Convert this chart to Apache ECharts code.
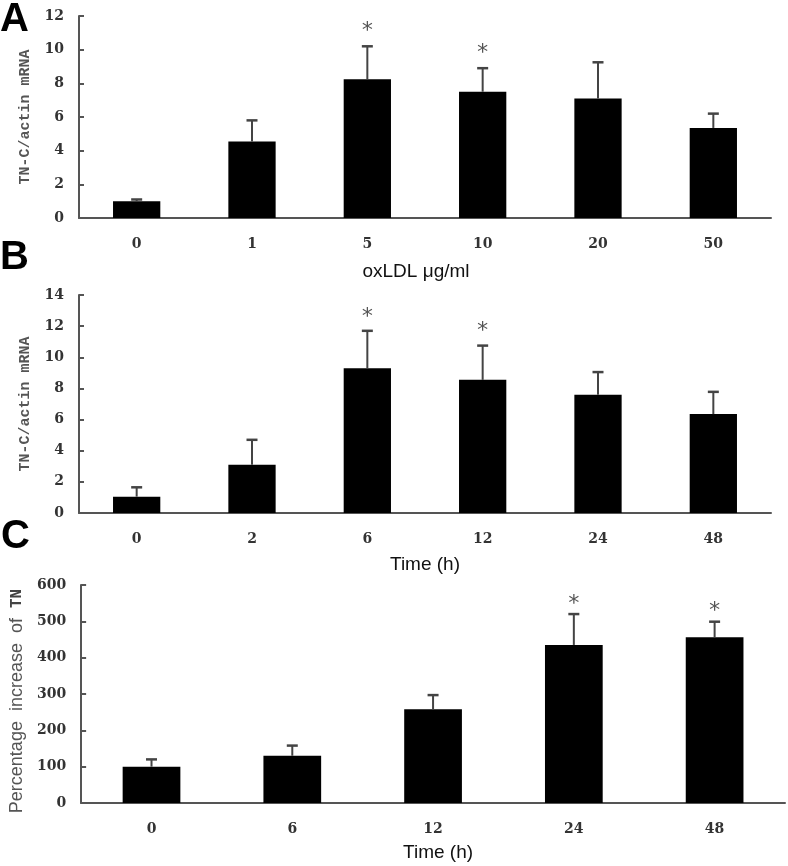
<!DOCTYPE html>
<html>
<head>
<meta charset="utf-8">
<script src="https://cdn.jsdelivr.net/npm/echarts@6/dist/echarts.min.js"></script>
<style>
  html, body { margin: 0; padding: 0; background: #fff; }
  #chart { width: 788px; height: 866px; }
</style>
</head>
<body>
<div id="chart"></div>
<script>
// Panel A: oxLDL dose
const catA = ['0', '1', '5', '10', '20', '50'];
const meanA = [1.0, 4.55, 8.25, 7.5, 7.1, 5.35];
const sdA = [0.1, 1.25, 1.95, 1.4, 2.15, 0.85];
const sigA = [0, 0, 1, 1, 0, 0];

// Panel B: time course
const catB = ['0', '2', '6', '12', '24', '48'];
const meanB = [1.05, 3.1, 9.3, 8.55, 7.6, 6.35];
const sdB = [0.6, 1.6, 2.4, 2.2, 1.45, 1.43];
const sigB = [0, 0, 1, 1, 0, 0];

// Panel C: percentage increase of TN
const catC = ['0', '6', '12', '24', '48'];
const meanC = [100, 130, 258, 435, 456];
const sdC = [20, 28, 39, 85, 43];
const sigC = [0, 0, 0, 1, 1];

const chart = echarts.init(document.getElementById('chart'), null, { renderer: 'canvas' });

const tickFont = { fontFamily: 'DejaVu Serif', fontWeight: 'bold', fontSize: 14, color: '#333' };
const axisLine = { lineStyle: { color: '#555', width: 2 } };

function errData(mean, sd, sig) {
  return mean.map((m, i) => [i, m, m + sd[i], sig[i]]);
}

function errRender(starGap) {
  return function (params, api) {
    const base = api.coord([api.value(0), api.value(1)]);
    const top = api.coord([api.value(0), api.value(2)]);
    const children = [
      { type: 'line', shape: { x1: base[0], y1: base[1], x2: top[0], y2: top[1] },
        style: { stroke: '#444', lineWidth: 2 } },
      { type: 'line', shape: { x1: top[0] - 5.5, y1: top[1], x2: top[0] + 5.5, y2: top[1] },
        style: { stroke: '#444', lineWidth: 2.5 } }
    ];
    if (api.value(3)) {
      children.push({ type: 'text', x: top[0], y: top[1] - starGap,
        style: { text: '*', fontSize: 22, fontFamily: 'DejaVu Sans Mono', fill: '#555',
                 align: 'center', verticalAlign: 'middle' } });
    }
    return { type: 'group', children: children };
  };
}

function xAxisCfg(idx, cats, name, gap, pad) {
  return {
    type: 'category', gridIndex: idx, data: cats,
    axisLine: axisLine,
    axisTick: { inside: true, length: 3, lineStyle: { color: '#555', width: 2 } },
    axisLabel: Object.assign({ margin: 19 }, tickFont),
    name: name, nameLocation: 'middle', nameGap: gap,
    nameTextStyle: { fontFamily: 'Liberation Sans', fontSize: 19, color: '#111', padding: pad }
  };
}

function yAxisCfg(idx, max, interval, name, nameGap, nameStyle) {
  return {
    type: 'value', gridIndex: idx, min: 0, max: max, interval: interval,
    axisLine: Object.assign({ show: true }, axisLine),
    axisTick: { show: true, inside: true, length: 5, lineStyle: { color: '#555', width: 2 } },
    axisLabel: Object.assign({ margin: 15 }, tickFont),
    splitLine: { show: false },
    name: name, nameLocation: 'middle', nameGap: nameGap,
    nameTextStyle: nameStyle
  };
}

const monoName = { fontFamily: 'Liberation Mono', fontWeight: 'bold', fontSize: 15, color: '#555' };

const option = {
  backgroundColor: '#fff',
  animation: false,
  grid: [
    { left: 79, right: 17, top: 16, height: 202 },
    { left: 79, right: 17, top: 295, height: 218 },
    { left: 79, right: 3, top: 585, height: 218 }
  ],
  xAxis: [
    xAxisCfg(0, catA, 'oxLDL \u03bcg/ml', 44, [0, 18, 0, 0]),
    xAxisCfg(1, catB, 'Time (h)', 42, [0, 0, 0, 0]),
    xAxisCfg(2, catC, 'Time (h)', 40, [0, 0, 0, 10])
  ],
  yAxis: [
    yAxisCfg(0, 12, 2, 'TN-C/actin mRNA', 46, monoName),
    yAxisCfg(1, 14, 2, 'TN-C/actin mRNA', 46, monoName),
    yAxisCfg(2, 600, 100, '{a|Percentage  increase  of  }{b|TN}', 54, {
      padding: [0, 14, 0, 0],
      rich: {
        a: { fontFamily: 'Liberation Sans', fontSize: 18, color: '#555' },
        b: { fontFamily: 'Liberation Mono', fontWeight: 'bold', fontSize: 16, color: '#444' }
      }
    })
  ],
  graphic: [
    { type: 'text', left: 0, top: 0, style: { text: 'A', fontFamily: 'Liberation Sans', fontWeight: 'bold', fontSize: 40, fill: '#000' } },
    { type: 'text', left: 0, top: 238, style: { text: 'B', fontFamily: 'Liberation Sans', fontWeight: 'bold', fontSize: 40, fill: '#000' } },
    { type: 'text', left: 1, top: 517, style: { text: 'C', fontFamily: 'Liberation Sans', fontWeight: 'bold', fontSize: 40, fill: '#000' } }
  ],
  series: [
    { type: 'bar', xAxisIndex: 0, yAxisIndex: 0, data: meanA, barWidth: '41%', itemStyle: { color: '#000' } },
    { type: 'custom', xAxisIndex: 0, yAxisIndex: 0, data: errData(meanA, sdA, sigA), renderItem: errRender(15), z: 3 },
    { type: 'bar', xAxisIndex: 1, yAxisIndex: 1, data: meanB, barWidth: '41%', itemStyle: { color: '#000' } },
    { type: 'custom', xAxisIndex: 1, yAxisIndex: 1, data: errData(meanB, sdB, sigB), renderItem: errRender(14), z: 3 },
    { type: 'bar', xAxisIndex: 2, yAxisIndex: 2, data: meanC, barWidth: '41%', itemStyle: { color: '#000' } },
    { type: 'custom', xAxisIndex: 2, yAxisIndex: 2, data: errData(meanC, sdC, sigC), renderItem: errRender(10), z: 3 }
  ]
};

chart.setOption(option);
</script>
</body>
</html>
